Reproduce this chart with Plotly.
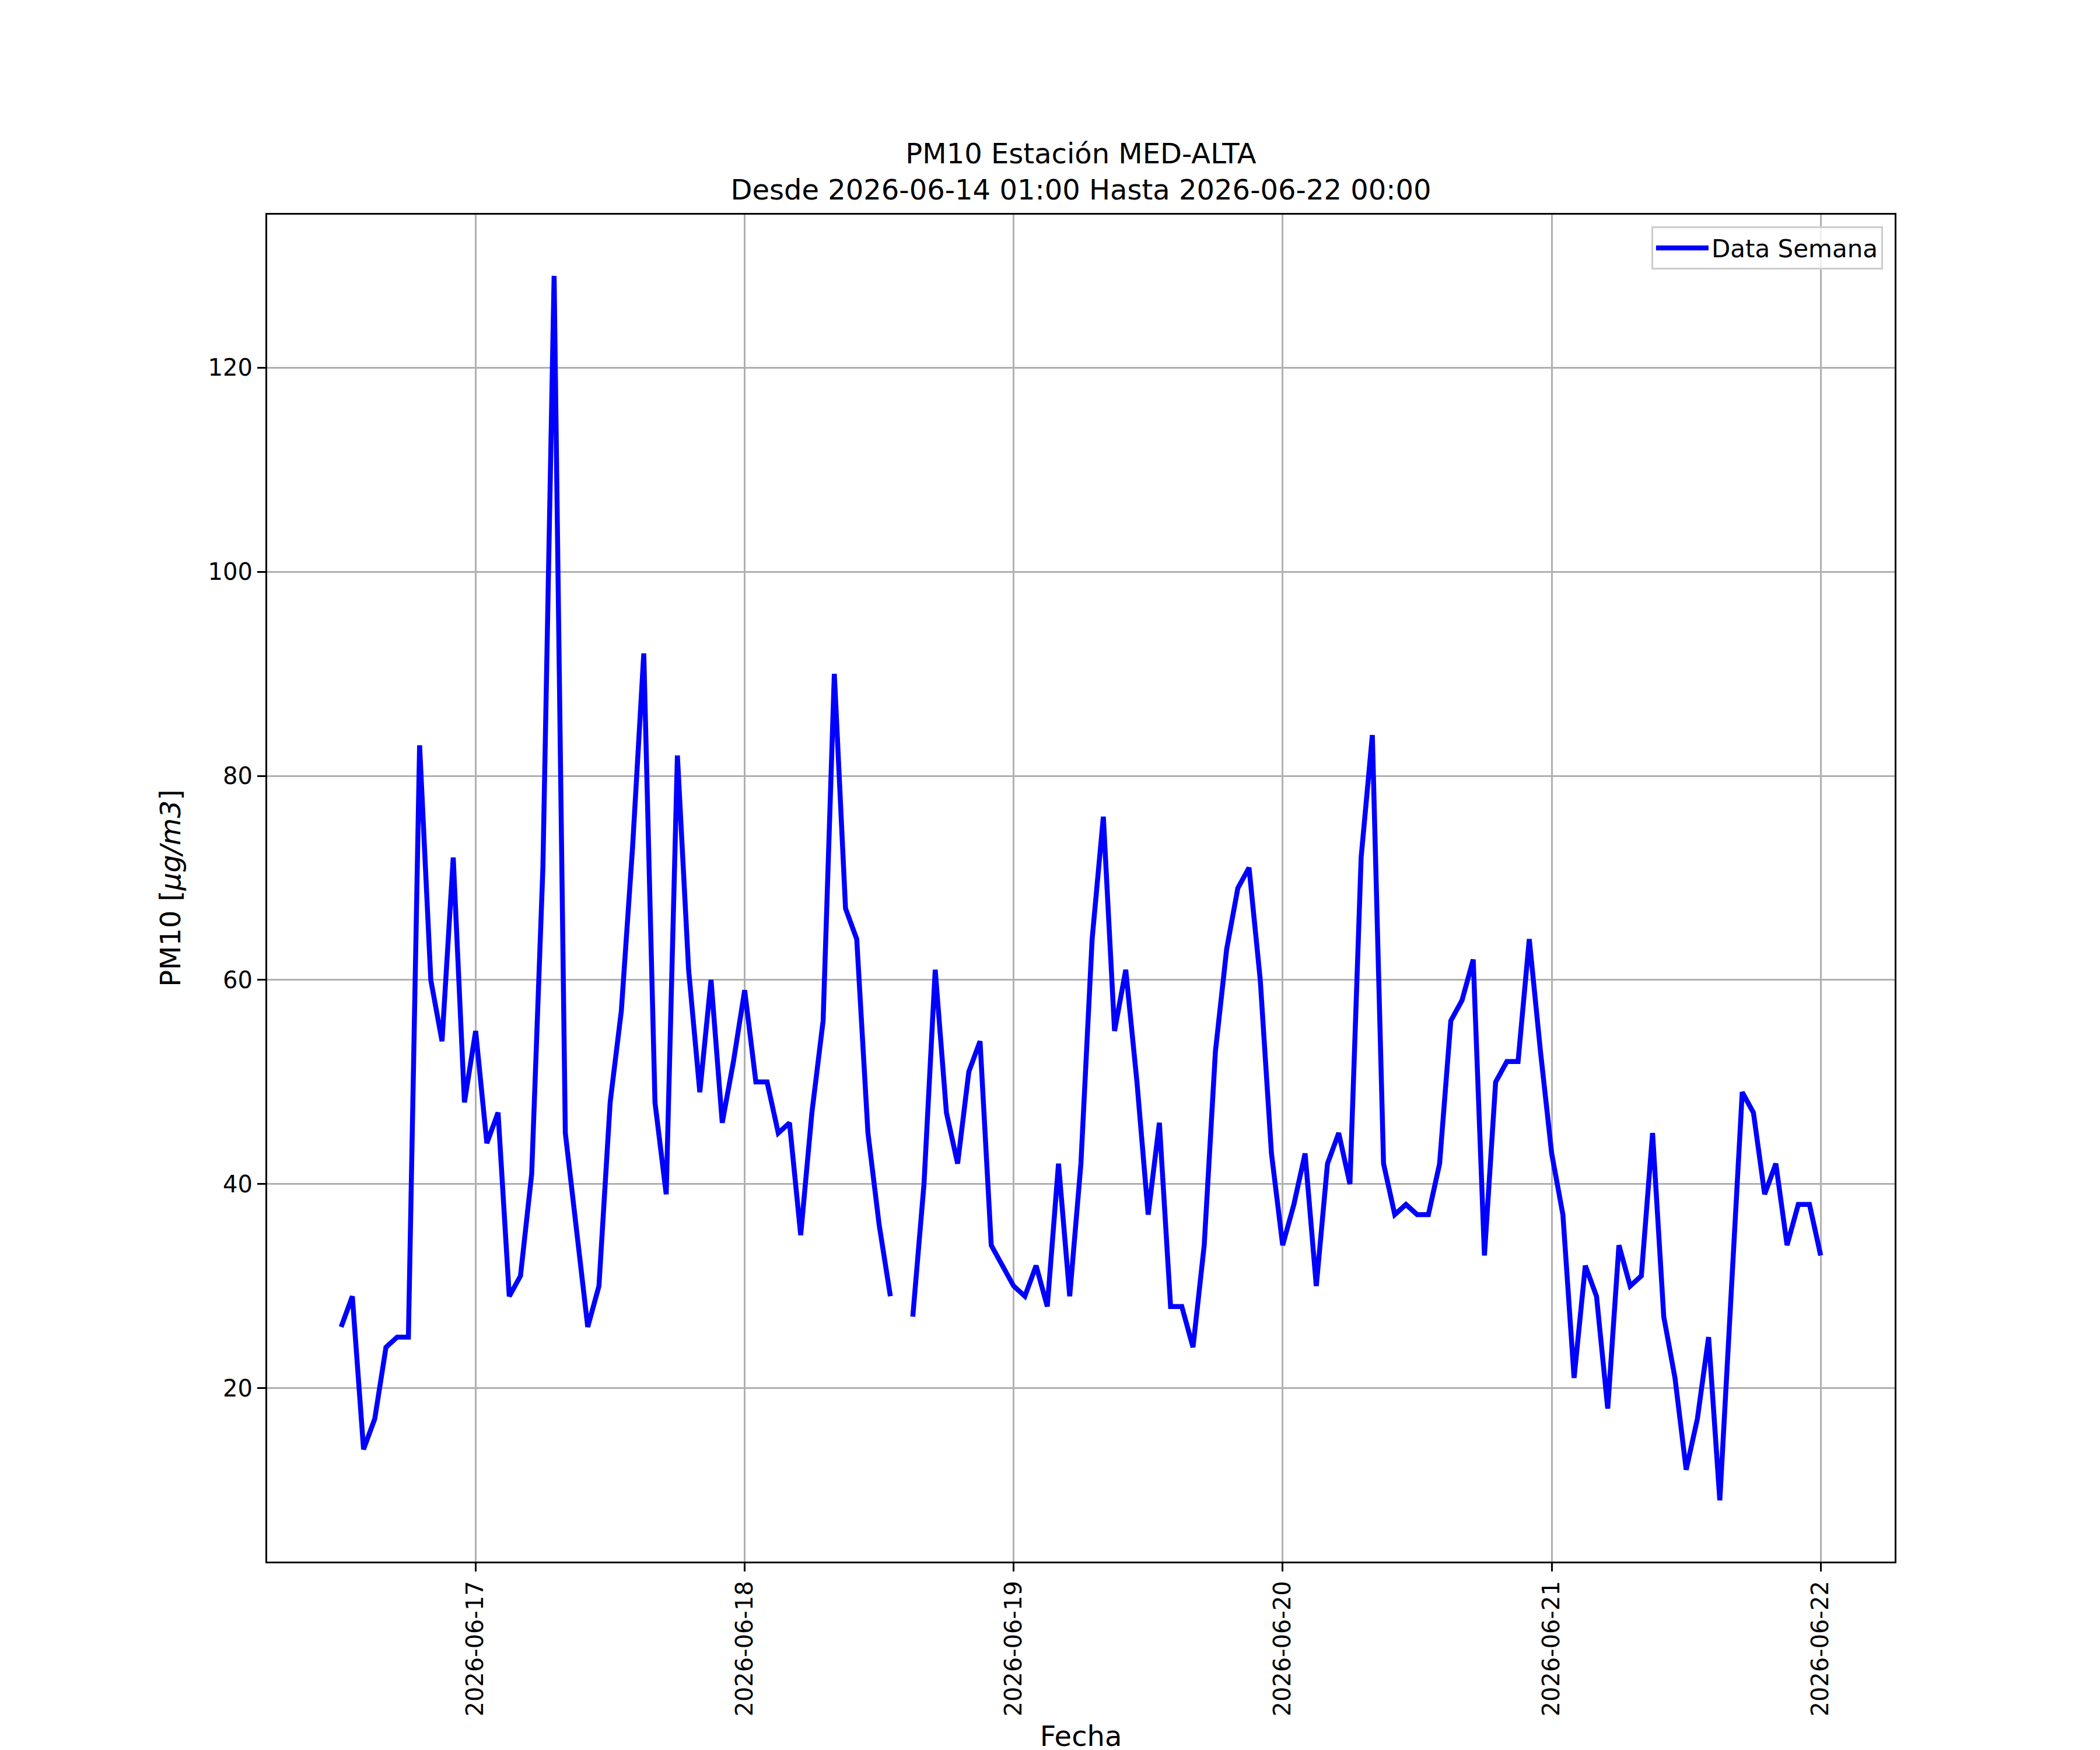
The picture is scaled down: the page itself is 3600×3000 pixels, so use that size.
import pandas as pd
import plotly.graph_objects as go

# PM10 hourly values, one list per day (2026-06-16 starts at 12:00)
pm10_jun16 = [26, 29, 14, 17, 24, 25, 25, 83, 60, 54, 72, 48]
pm10_jun17 = [55, 44, 47, 29, 31, 41, 71, 129, 45, 36, 26, 30,
              48, 57, 73, 92, 48, 39, 82, 61, 49, 60, 46, 52]
pm10_jun18 = [59, 50, 50, 45, 46, 35, 47, 56, 90, 67, 64, 45,
              36, 29, None, 27, 40, 61, 47, 42, 51, 54, 34, 32]
pm10_jun19 = [30, 29, 32, 28, 42, 29, 42, 64, 76, 55, 61, 50,
              37, 46, 28, 28, 24, 34, 53, 63, 69, 71, 60, 43]
pm10_jun20 = [34, 38, 43, 30, 42, 45, 40, 72, 84, 42, 37, 38,
              37, 37, 42, 56, 58, 62, 33, 50, 52, 52, 64, 53]
pm10_jun21 = [43, 37, 21, 32, 29, 18, 34, 30, 31, 45, 27, 21,
              12, 17, 25, 9, 29, 49, 47, 39, 42, 34, 38, 38]
pm10_jun22 = [33]

pm10 = pm10_jun16 + pm10_jun17 + pm10_jun18 + pm10_jun19 + pm10_jun20 + pm10_jun21 + pm10_jun22
fechas = pd.date_range("2026-06-16 12:00", periods=len(pm10), freq="h")

dias = ["2026-06-17", "2026-06-18", "2026-06-19", "2026-06-20", "2026-06-21", "2026-06-22"]
y_ticks = [20, 40, 60, 80, 100, 120]

titulo = "PM10 Estación MED-ALTA<br>Desde 2026-06-14 01:00 Hasta 2026-06-22 00:00"

fig = go.Figure()
fig.add_trace(go.Scatter(x=fechas, y=pm10, mode="lines", name="Data Semana",
                         line=dict(color="blue", width=8.5),
                         connectgaps=False))

eje = dict(showline=True, mirror=True, linecolor="black", linewidth=3.2,
           ticks="outside", ticklen=14, tickwidth=3.2, tickcolor="black",
           showgrid=True, gridcolor="#b0b0b0", gridwidth=3.2, zeroline=False,
           tickfont=dict(size=40, color="black"))

fig.update_xaxes(**eje, type="date",
                 range=["2026-06-16 05:24", "2026-06-22 06:36"],
                 tickvals=dias, ticktext=dias, tickangle=-90,
                 title=dict(text="Fecha", font=dict(size=48), standoff=18))
fig.update_yaxes(**eje, range=[3, 135], tickvals=y_ticks,
                 title=dict(text="PM10 [<i>μg/m3</i>]", font=dict(size=48), standoff=32))

fig.update_layout(
    width=3600, height=3000,
    margin=dict(l=450, r=360, t=360, b=331),
    paper_bgcolor="white", plot_bgcolor="white",
    font=dict(family="DejaVu Sans", color="black"),
    title=dict(text=titulo, x=0.5, xref="paper", xanchor="center",
               y=1 - 272 / 3000, yref="container", yanchor="top",
               font=dict(size=48)),
    showlegend=True,
    legend=dict(x=0.9928, y=0.9913, xanchor="right", yanchor="top",
                bgcolor="rgba(255,255,255,0.8)", bordercolor="#cccccc",
                borderwidth=3, itemwidth=90, font=dict(size=42)),
)

fig.write_html("out.html")
